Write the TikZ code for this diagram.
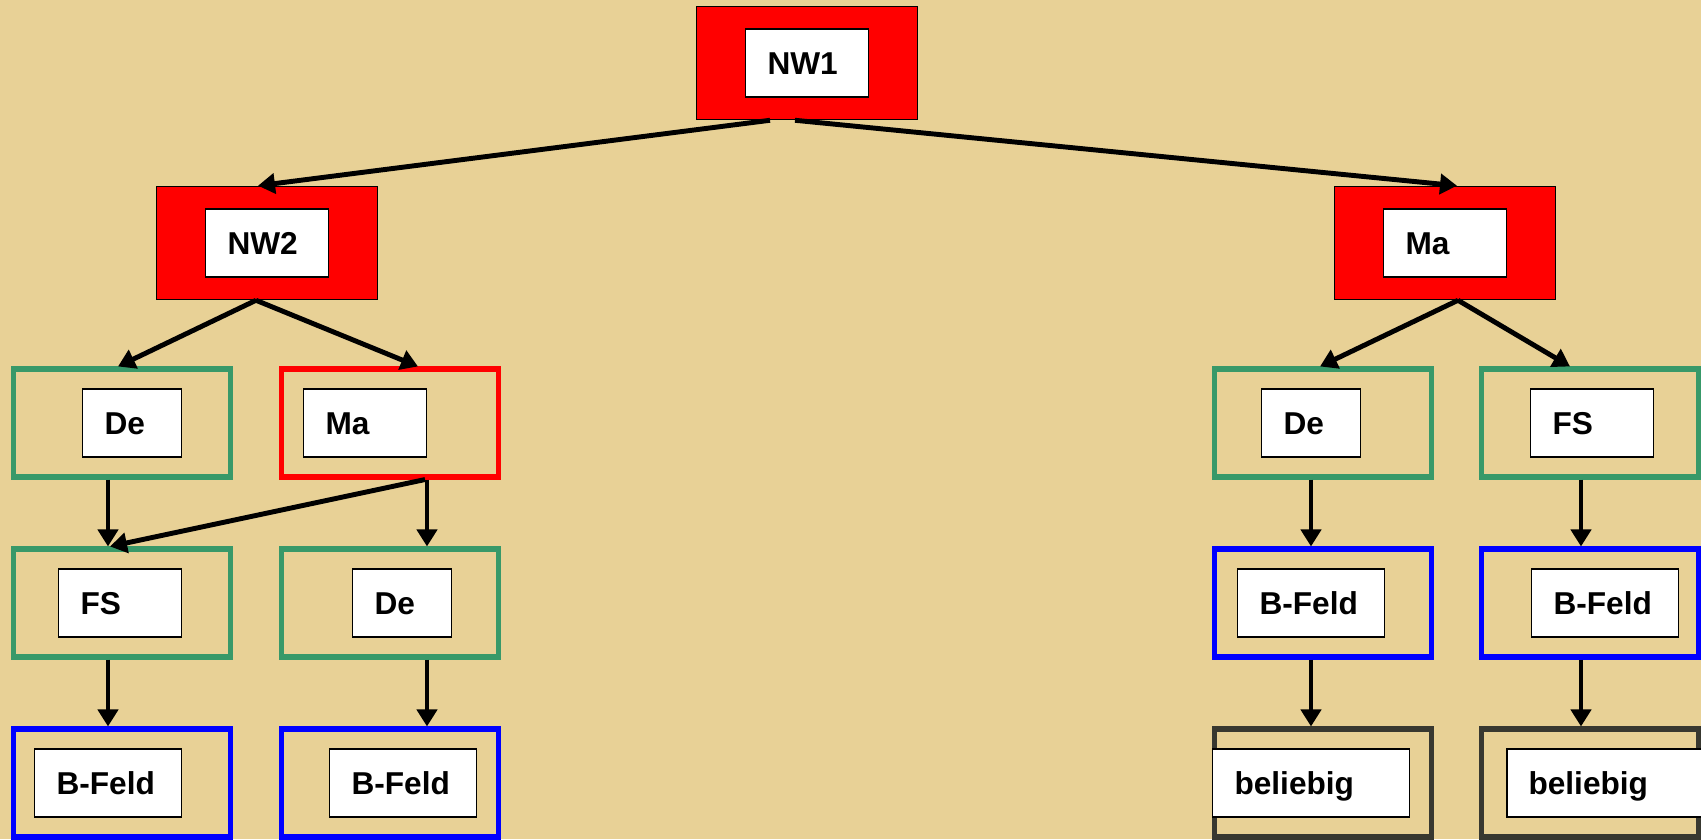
\documentclass[tikz,border=0pt]{standalone}
\usepackage{fontspec}
\setmainfont{Liberation Sans}
\usepackage{tikz}
\usetikzlibrary{calc}
\usetikzlibrary{arrows.meta}
\definecolor{ffqqqq}{rgb}{1.,0.,0.}
\definecolor{qqqqff}{rgb}{0.,0.,1.}
\definecolor{ttzzqq}{rgb}{0.22,0.6,0.41}
\definecolor{tttttt}{rgb}{0.22,0.22,0.19}
\definecolor{eeddaa}{rgb}{0.91,0.82,0.59}
\tikzstyle{every node}=[font=\fontsize{18}{20}\selectfont\bfseries]
\tikzstyle{redbox}=[draw=black,line width=0.9pt,fill=ffqqqq,minimum width=4.42cm,minimum height=2.26cm]
\tikzstyle{framebox}=[line width=2.9pt,minimum width=4.34cm,minimum height=2.16cm]
\tikzstyle{conn}=[->,line width=2.8pt]
\tikzset{namebox/.style={draw=black,line width=1.1pt,fill=white,text width=#1,minimum height=1.36cm,inner xsep=0.44cm,inner ysep=0pt,align=left,text height=12.9pt,text depth=0pt}}

\begin{document}
\begin{tikzpicture}[line cap=butt,line join=miter,x=0.02cm,y=-0.02cm,>={Triangle[length=0.34cm,width=0.4cm]}]
            \useasboundingbox (0,0) rectangle (1701,839);
            \clip (0,0) rectangle (1701,839);
            \fill[color=eeddaa] (0,0) rectangle (1701,839);
            % top levels
            \node[redbox] (nw1) at (807,63) {};
            \node[namebox=1.58cm] (nw1t) at (nw1) {NW1};
            \node[redbox] (nw2) at (267,243) {};
            \node[namebox=1.58cm] (nw2t) at (nw2) {NW2};
            \node[redbox] (maR) at (1445,243) {};
            \node[namebox=1.58cm] (maRt) at (maR) {Ma};
            % row 3
            \node[framebox,draw=ttzzqq] (deL) at (122,423) {};
            \node[namebox=1.10cm] (deLt) at ($(deL)+(10,0)$) {De};
            \node[framebox,draw=ffqqqq] (maL) at (390,423) {};
            \node[namebox=1.58cm] (maLt) at ($(maL)+(-25,0)$) {Ma};
            \node[framebox,draw=ttzzqq] (deR) at (1323,423) {};
            \node[namebox=1.10cm] (deRt) at ($(deR)+(-12,0)$) {De};
            \node[framebox,draw=ttzzqq] (fsR) at (1590,423) {};
            \node[namebox=1.58cm] (fsRt) at ($(fsR)+(2,0)$) {FS};
            % row 4
            \node[framebox,draw=ttzzqq] (fsL) at (122,603) {};
            \node[namebox=1.58cm] (fsLt) at ($(fsL)+(-2,0)$) {FS};
            \node[framebox,draw=ttzzqq] (deL2) at (390,603) {};
            \node[namebox=1.10cm] (deL2t) at ($(deL2)+(12,0)$) {De};
            \node[framebox,draw=qqqqff] (bfR) at (1323,603) {};
            \node[namebox=2.06cm] (bfRt) at ($(bfR)+(-12,0)$) {B-Feld};
            \node[framebox,draw=qqqqff] (bfR2) at (1590,603) {};
            \node[namebox=2.06cm] (bfR2t) at ($(bfR2)+(15,0)$) {B-Feld};
            % row 5
            \node[framebox,draw=qqqqff] (bfL) at (122,783) {};
            \node[namebox=2.06cm] (bfLt) at ($(bfL)+(-14,0)$) {B-Feld};
            \node[framebox,draw=qqqqff] (bfL2) at (390,783) {};
            \node[namebox=2.06cm] (bfL2t) at ($(bfL2)+(13,0)$) {B-Feld};
            \node[framebox,draw=tttttt] (belR) at (1323,783) {};
            \node[namebox=3.06cm] (belRt) at ($(belR)+(-12,0)$) {beliebig};
            \node[framebox,draw=tttttt] (belR2) at (1590,783) {};
            \node[namebox=3.06cm] (belR2t) at ($(belR2)+(15,0)$) {beliebig};
            % arrows
            \draw[conn] ($(nw1.south)+(-37,0)$) -- ($(nw2.north)+(-9,0)$);
            \draw[conn] ($(nw1.south)+(-12,0)$) -- ($(maR.north)+(12,0)$);
            \draw[conn] ($(nw2.south)+(-11,0)$) -- ($(deL.north)+(-4,0)$);
            \draw[conn] ($(nw2.south)+(-11,0)$) -- ($(maL.north)+(28,0)$);
            \draw[conn] ($(deL.south)+(-14,0)$) -- ($(fsL.north)+(-14,0)$);
            \draw[conn] ($(maL.south)+(35,0)$) -- ($(fsL.north)+(-12,0)$);
            \draw[conn] ($(maL.south)+(37,0)$) -- ($(deL2.north)+(37,0)$);
            \draw[conn] ($(fsL.south)+(-14,0)$) -- ($(bfL.north)+(-14,0)$);
            \draw[conn] ($(deL2.south)+(37,0)$) -- ($(bfL2.north)+(37,0)$);
            \draw[conn] ($(maR.south)+(13,0)$) -- ($(deR.north)+(-3,0)$);
            \draw[conn] ($(maR.south)+(13,0)$) -- ($(fsR.north)+(-20,0)$);
            \draw[conn] ($(deR.south)+(-12,0)$) -- ($(bfR.north)+(-12,0)$);
            \draw[conn] ($(fsR.south)+(-9,0)$) -- ($(bfR2.north)+(-9,0)$);
            \draw[conn] ($(bfR.south)+(-12,0)$) -- ($(belR.north)+(-12,0)$);
            \draw[conn] ($(bfR2.south)+(-9,0)$) -- ($(belR2.north)+(-9,0)$);
            \end{tikzpicture}
\end{document}
